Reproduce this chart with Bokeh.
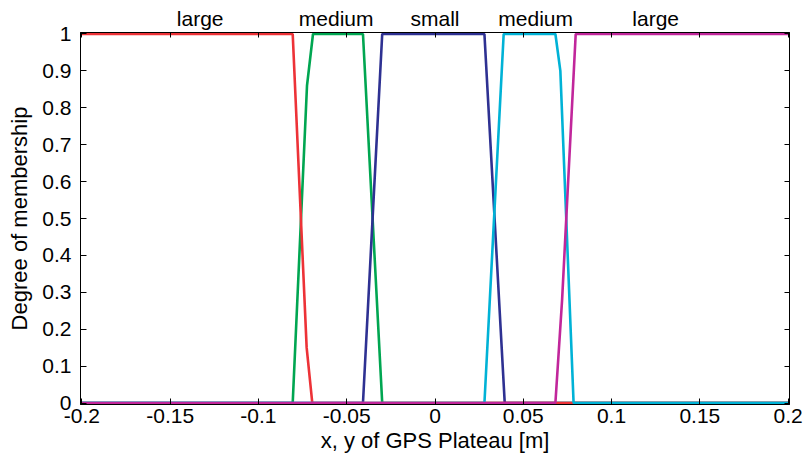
from bokeh.plotting import figure
from bokeh.models import Range1d, FixedTicker, LinearAxis
from bokeh.embed import file_html
from bokeh.resources import INLINE

# ---- data ----
large_l_x = [-0.2, -0.0806, -0.0727, -0.0695, 0.2]
large_l_y = [1, 1, 0.15, 0, 0]

medium_l_x = [-0.2, -0.0806, -0.0725, -0.0691, -0.0408, -0.0299, 0.2]
medium_l_y = [0, 0, 0.86, 1, 1, 0, 0]

small_x = [-0.2, -0.0408, -0.0299, 0.0280, 0.0395, 0.2]
small_y = [0, 0, 1, 1, 0, 0]

medium_r_x = [-0.2, 0.0280, 0.0389, 0.0682, 0.0710, 0.0785, 0.2]
medium_r_y = [0, 0, 1, 1, 0.90, 0, 0]

large_r_x = [-0.2, 0.0682, 0.0720, 0.0797, 0.2]
large_r_y = [0, 0, 0.28, 1, 1]

top_labels = ["large", "medium", "small", "medium", "large"]
top_label_x = [-0.133, -0.056, 0.0, 0.057, 0.125]

x_ticks = [-0.2, -0.15, -0.1, -0.05, 0, 0.05, 0.1, 0.15, 0.2]
x_tick_labels = ["-0.2", "-0.15", "-0.1", "-0.05", "0", "0.05", "0.1", "0.15", "0.2"]
y_ticks = [0, 0.1, 0.2, 0.3, 0.4, 0.5, 0.6, 0.7, 0.8, 0.9, 1]
y_tick_labels = ["0", "0.1", "0.2", "0.3", "0.4", "0.5", "0.6", "0.7", "0.8", "0.9", "1"]

FONT = "Liberation Sans"
PAD_X = 0.0008   # tiny padding so lines on the box edge are not clipped
PAD_Y = 0.004

p = figure(width=804, height=462, output_backend="svg", toolbar_location=None,
           x_range=Range1d(-0.2 - PAD_X, 0.2 + PAD_X), y_range=Range1d(0 - PAD_Y, 1 + PAD_Y),
           min_border_left=80, min_border_right=15, min_border_top=32, min_border_bottom=58,
           x_axis_label="x, y of GPS Plateau [m]", y_axis_label="Degree of membership")
p.grid.visible = False
p.outline_line_color = "black"
p.outline_line_width = 1
p.background_fill_color = "white"
p.border_fill_color = "white"


def base_style(ax):
    ax.axis_line_color = "black"
    ax.major_tick_line_color = "black"
    ax.minor_tick_line_color = "black"
    ax.major_label_text_font = FONT
    ax.major_label_text_font_size = "21px"
    ax.major_label_text_color = "black"
    ax.axis_label_text_font = FONT
    ax.axis_label_text_font_size = "22px"
    ax.axis_label_text_font_style = "normal"
    ax.axis_label_text_color = "black"


def style_axis(ax, ticks, labels):
    base_style(ax)
    ax.ticker = FixedTicker(ticks=ticks)
    ax.major_label_overrides = {t: l for t, l in zip(ticks, labels)}
    ax.major_tick_in = 6
    ax.major_tick_out = 0
    ax.minor_tick_in = 0
    ax.minor_tick_out = 0


style_axis(p.xaxis[0], x_ticks, x_tick_labels)
style_axis(p.yaxis[0], y_ticks, y_tick_labels)
p.xaxis[0].major_label_standoff = 4
p.xaxis[0].axis_label_standoff = 2
p.yaxis[0].major_label_standoff = 9
p.yaxis[0].axis_label_standoff = 7

# top axis: category names as labels, inward minor ticks at the x tick values
top_ax = LinearAxis()
base_style(top_ax)
top_ax.ticker = FixedTicker(ticks=top_label_x, minor_ticks=x_ticks)
top_ax.major_label_overrides = {t: l for t, l in zip(top_label_x, top_labels)}
top_ax.major_tick_in = 0
top_ax.major_tick_out = 0
top_ax.minor_tick_in = 5
top_ax.minor_tick_out = 0
top_ax.major_label_standoff = 3
p.add_layout(top_ax, "above")

# right axis: ticks only
right_ax = LinearAxis()
base_style(right_ax)
right_ax.ticker = FixedTicker(ticks=[], minor_ticks=y_ticks)
right_ax.major_tick_in = 0
right_ax.major_tick_out = 0
right_ax.minor_tick_in = 5
right_ax.minor_tick_out = 0
p.add_layout(right_ax, "right")

LW = 2.6
p.line(medium_l_x, medium_l_y, line_color="#00a651", line_width=LW)
p.line(small_x, small_y, line_color="#2e3192", line_width=LW)
p.line(large_l_x, large_l_y, line_color="#ed3237", line_width=LW)
p.line(medium_r_x, medium_r_y, line_color="#00b2d6", line_width=LW)
p.line(large_r_x, large_r_y, line_color="#c1269b", line_width=LW)

open("out.html", "w").write(file_html(p, INLINE))
